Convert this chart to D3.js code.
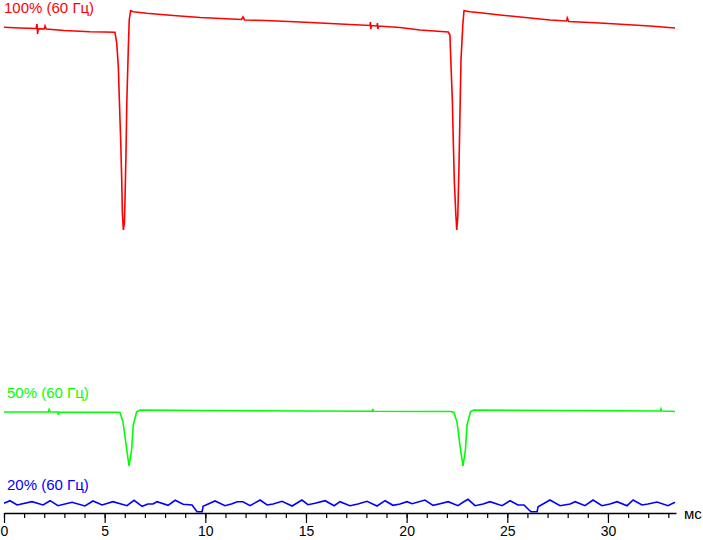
<!DOCTYPE html>
<html>
<head>
<meta charset="utf-8">
<script src="https://cdn.jsdelivr.net/npm/d3@7"></script>
<style>
  html, body { margin: 0; padding: 0; background: #fff; }
  svg { display: block; }
  text { font-family: "Liberation Sans", Arial, sans-serif; }
</style>
</head>
<body>
<svg id="chart" width="703" height="540"></svg>
<script>
// ---- data ----
const unitLabel = "мс";
const seriesNames = ["100% (60 Гц)", "50% (60 Гц)", "20% (60 Гц)"];
const seriesColors = ["#ff0000", "#00ff00", "#0000ff"];
const majorTicks = [0, 5, 10, 15, 20, 25, 30];
const minorTicks = d3.range(0, 34, 1);

// 100% series: time (ms) and relative brightness
const t100 = [0, 0.8, 1.6, 1.64, 1.67, 1.7, 2.0, 2.04, 2.1, 3.0, 4.27, 5.0, 5.51, 5.6, 5.68, 5.73, 5.8, 5.85, 5.88, 5.93, 5.98, 6.01, 6.06, 6.1, 6.17, 6.22, 6.29, 6.42, 7.09, 8.25, 9.74, 11.8, 11.87, 11.95, 13.0, 14.7, 17.2, 18.18, 18.2, 18.22, 18.25, 18.53, 18.55, 18.57, 18.6, 19.67, 20.67, 22.07, 22.15, 22.2, 22.27, 22.32, 22.37, 22.44, 22.49, 22.54, 22.6, 22.65, 22.7, 22.79, 22.85, 23.15, 23.65, 24.64, 27.12, 27.95, 27.98, 28.05, 29.6, 32.09, 33.33];
const v100 = [485.7, 485, 484.5, 489, 479, 484.3, 484, 487, 484, 482.5, 481.3, 481, 480.7, 470, 446, 413, 370, 331, 300, 283, 290, 313, 360, 410, 461, 493, 502.3, 501.3, 499.7, 497.7, 495.5, 493.5, 496, 493, 492.5, 491, 488.5, 487.5, 491, 484, 487.5, 487, 490, 484, 487, 485.5, 483, 481, 478, 450, 413, 370, 331, 300, 283, 296, 346, 400, 453, 488, 502.3, 501.3, 500.3, 498, 493, 492, 495, 491.5, 490, 487, 485];

// 50% series
const t50 = [0, 2.2, 2.24, 2.3, 2.68, 2.7, 2.72, 5.6, 5.76, 5.91, 6.1, 6.21, 6.34, 6.42, 6.59, 6.76, 10, 15, 18.3, 18.32, 18.35, 22.2, 22.35, 22.5, 22.68, 22.8, 22.92, 23.0, 23.17, 23.33, 28, 32.6, 32.63, 32.66, 33.33];
const v50 = [101, 101, 103.5, 101, 101, 98, 101, 100.7, 100.5, 91.3, 63, 47, 63, 88, 101.3, 103, 102.5, 102, 101.8, 104, 101.8, 101.5, 100.5, 91, 63, 47, 63, 88, 101.3, 103, 102.5, 102, 104, 102, 101.5];

// 20% series
const t20 = [0, 0.3, 0.65, 1.39, 1.94, 2.29, 2.68, 3.38, 4.02, 4.42, 4.87, 5.41, 6.11, 6.46, 6.86, 7.15, 7.4, 7.6, 8.15, 8.5, 8.9, 9.34, 9.59, 9.84, 9.89, 10.48, 10.98, 11.33, 11.58, 11.87, 12.22, 12.72, 13.07, 13.37, 13.81, 14.31, 14.8, 15.1, 15.45, 15.95, 16.4, 16.69, 17.09, 17.19, 17.58, 18.03, 18.53, 18.93, 19.32, 19.67, 20.02, 20.27, 20.91, 21.31, 21.66, 22.06, 22.55, 22.8, 23.05, 23.4, 23.8, 24.14, 24.74, 25.14, 25.53, 25.83, 26.08, 26.18, 26.48, 26.53, 27.12, 27.62, 28.12, 28.37, 28.86, 29.26, 29.7, 30.1, 30.45, 30.95, 31.25, 31.69, 31.99, 32.44, 32.98, 33.33];
const v20 = [9.7, 12.3, 8, 11.3, 8, 12.3, 7.3, 10.7, 7, 12, 8, 11.3, 7.3, 12.7, 6.7, 9, 9, 11.3, 7.7, 12.7, 8.7, 8, 1.3, 1.3, 6.7, 12, 7.3, 9.3, 11.3, 11.3, 7.3, 13, 8, 9, 11.7, 7, 13, 8.3, 9.7, 12.3, 7.3, 11.3, 8, 7.3, 9, 11.7, 7, 12.3, 7.7, 9, 11.3, 9.3, 13, 7.7, 9.3, 11.3, 7.3, 10.7, 13.7, 7.3, 9, 11.3, 7.3, 12.3, 8, 8, 3, 1.3, 1.3, 6.3, 13, 7.3, 9, 11.3, 7.3, 13, 7.3, 9, 11.3, 7.3, 13, 8, 9, 11, 7.3, 10.7];

// ---- chart ----
const svg = d3.select("#chart");
const x = d3.scaleLinear().domain([0, 33.38]).range([4, 676]);
const y = d3.scaleLinear().domain([0, 502]).range([513, 11]);

const series = [
  { name: seriesNames[0], color: seriesColors[0], t: t100, v: v100, labelY: 13 },
  { name: seriesNames[1], color: seriesColors[1], t: t50, v: v50, labelY: 398 },
  { name: seriesNames[2], color: seriesColors[2], t: t20, v: v20, labelY: 490 }
];

const line = d3.line().x(d => x(d[0])).y(d => y(d[1]));

series.forEach(s => {
  const pts = s.t.map((t, i) => [t, s.v[i]]);
  svg.append("path")
    .attr("d", line(pts))
    .attr("fill", "none")
    .attr("stroke", s.color)
    .attr("stroke-width", 1.6)
    .attr("stroke-linejoin", "miter");
  svg.append("text")
    .attr("x", x(0) + (s === series[0] ? 0 : 3))
    .attr("y", s.labelY)
    .attr("fill", s.color)
    .attr("font-size", 15)
    .text(s.name);
});

// x axis
const axisY = y(0);
const gMinor = svg.append("g").attr("transform", `translate(0,${axisY})`)
  .call(d3.axisBottom(x).tickValues(minorTicks).tickSize(5).tickFormat(""));
gMinor.select(".domain").remove();
const gMajor = svg.append("g").attr("transform", `translate(0,${axisY})`)
  .call(d3.axisBottom(x).tickValues(majorTicks).tickSize(10).tickSizeOuter(0).tickPadding(3).tickFormat(d3.format("d")));
gMajor.select(".domain").attr("stroke", "#000").attr("stroke-width", 1.5);
svg.selectAll(".tick line").attr("stroke", "#000").attr("stroke-width", 1.2);
gMajor.selectAll(".tick text")
  .attr("font-family", "Liberation Sans, Arial, sans-serif")
  .attr("font-size", 14)
  .attr("fill", "#000");

svg.append("text")
  .attr("x", 684)
  .attr("y", axisY + 6)
  .attr("font-size", 15)
  .attr("fill", "#000")
  .text(unitLabel);
</script>
</body>
</html>
